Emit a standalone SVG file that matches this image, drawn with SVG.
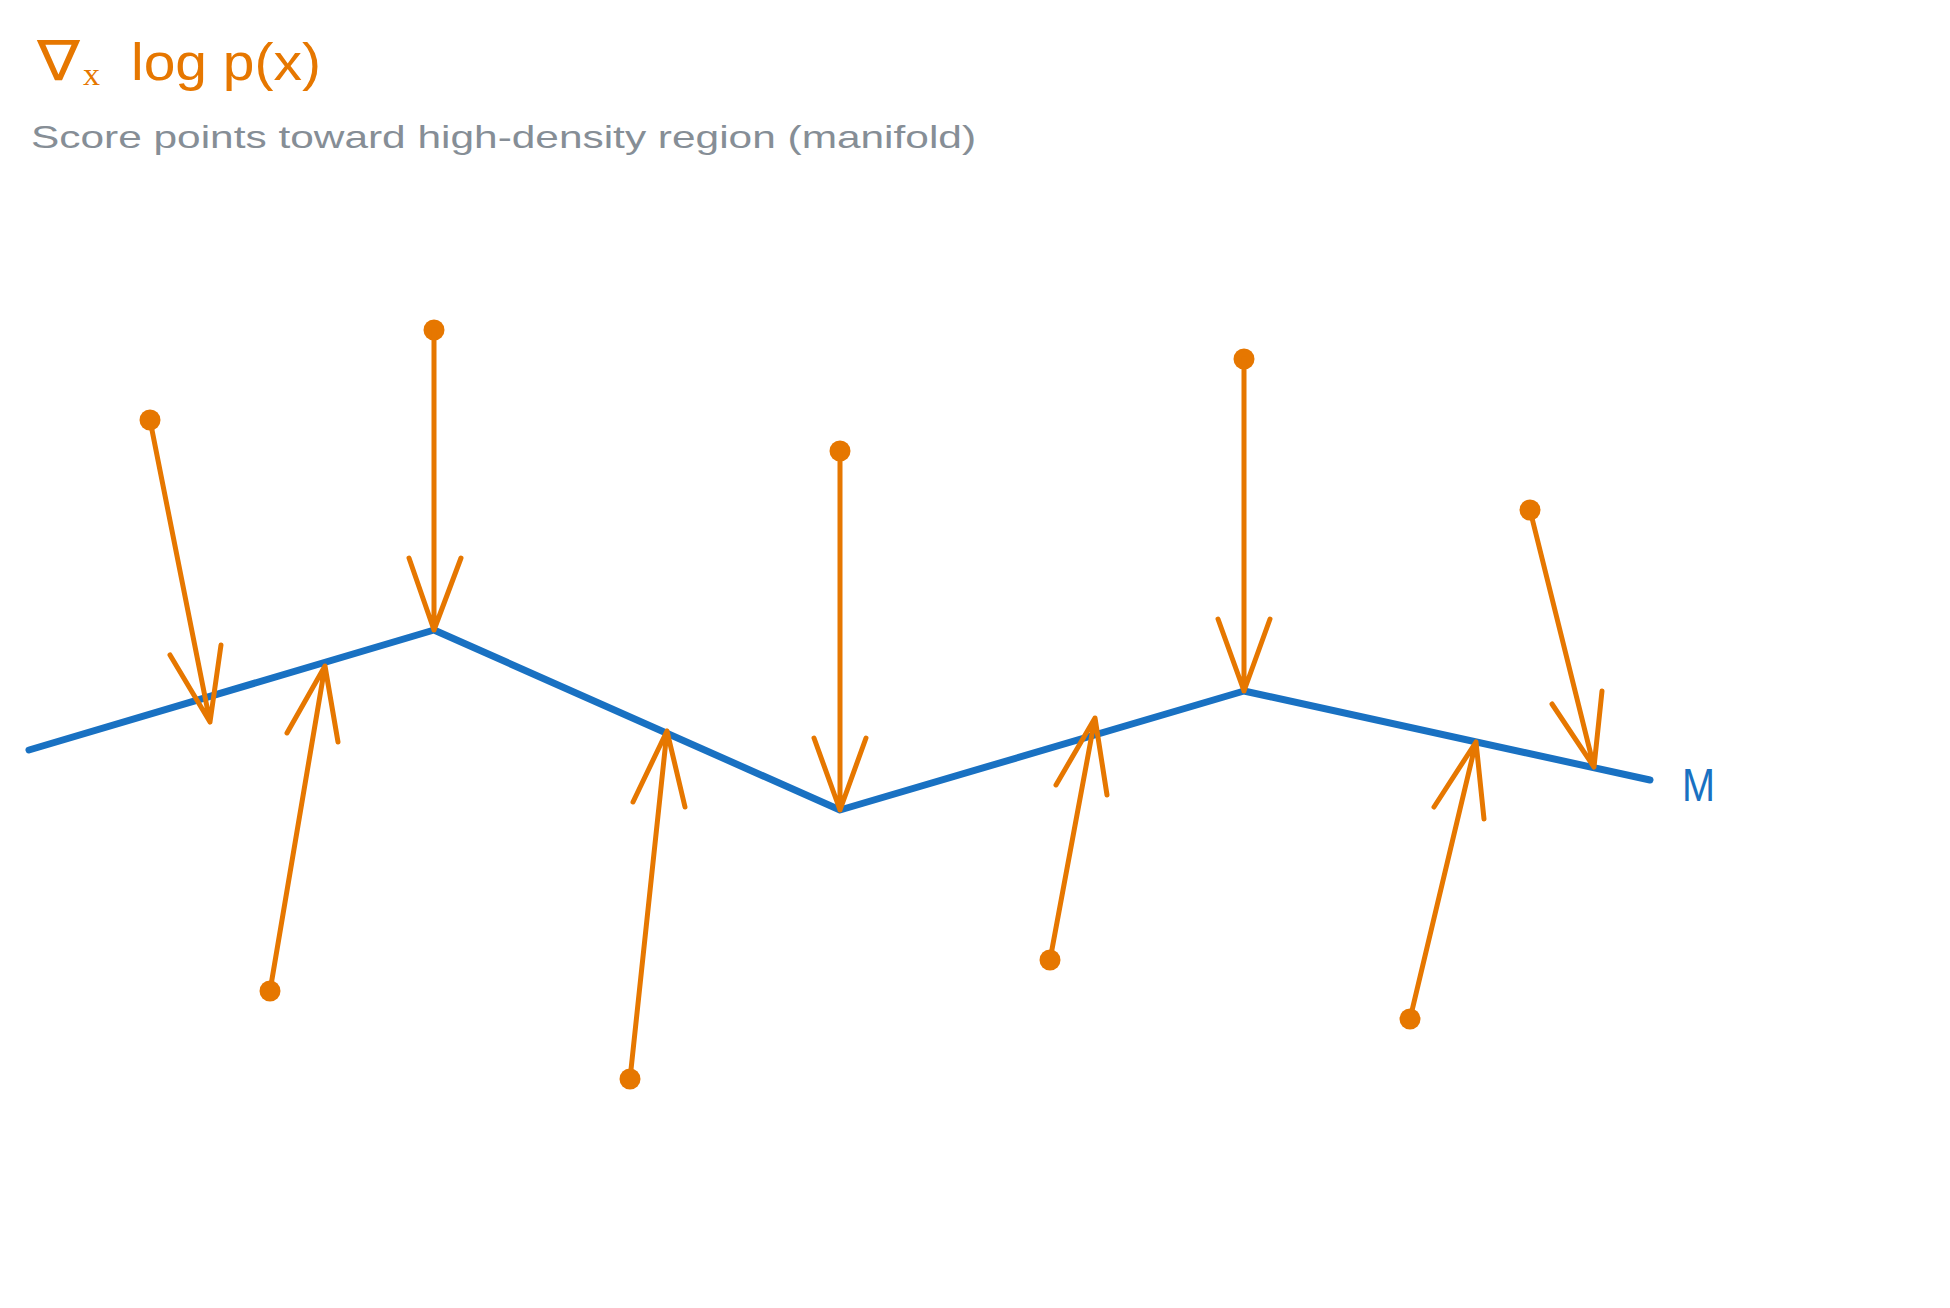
<svg xmlns="http://www.w3.org/2000/svg" width="1950" height="1308" viewBox="0 0 1950 1308">
<style>
.bg{fill:#ffffff}
.title{font-family:"Liberation Sans","DejaVu Sans",sans-serif;fill:#e67700}
.sub{font-family:"Liberation Serif",serif;fill:#e67700}
.note{font-family:"Liberation Sans","DejaVu Sans",sans-serif;fill:#868e96}
.mlabel{font-family:"Liberation Sans","DejaVu Sans",sans-serif;fill:#1971c2}
.manifold{fill:none;stroke:#1971c2;stroke-width:7;stroke-linecap:round;stroke-linejoin:round}
.arr{fill:none;stroke:#e67700;stroke-width:5;stroke-linecap:round;stroke-linejoin:round}
.dot{fill:#e67700}
</style>
<rect class="bg" x="0" y="0" width="1950" height="1308"/>
<g id="title">
  <text class="title" x="37" y="80" font-size="56" textLength="43" lengthAdjust="spacingAndGlyphs">∇</text>
  <text class="sub" x="83" y="85" font-size="32" textLength="17" lengthAdjust="spacingAndGlyphs">x</text>
  <text class="title" x="131" y="80" font-size="52" textLength="190" lengthAdjust="spacingAndGlyphs">log p(x)</text>
</g>
<g id="subtitle">
  <text class="note" x="31" y="148" font-size="32" textLength="945" lengthAdjust="spacingAndGlyphs">Score points toward high-density region (manifold)</text>
</g>
<g id="manifold">
  <polyline class="manifold" points="29,750 434,630 840,810 1244,691 1650,780"/>
  <text class="mlabel" x="1682" y="801" font-size="46" textLength="33" lengthAdjust="spacingAndGlyphs">M</text>
</g>
<g id="connectors">
  <g id="arrow1"><circle class="dot" cx="150" cy="420" r="10.5"/><path class="arr" d="M150,420 L210,722 M170,655 L210,722 L221,645"/></g>
  <g id="arrow2"><circle class="dot" cx="434" cy="330" r="10.5"/><path class="arr" d="M434,330 L434,630 M409,558 L434,630 L461,558"/></g>
  <g id="arrow3"><circle class="dot" cx="270" cy="991" r="10.5"/><path class="arr" d="M270,991 L325,666 M287,733 L325,666 L338,742"/></g>
  <g id="arrow4"><circle class="dot" cx="630" cy="1079" r="10.5"/><path class="arr" d="M630,1079 L667,731 M633,802 L667,731 L685,807"/></g>
  <g id="arrow5"><circle class="dot" cx="840" cy="451" r="10.5"/><path class="arr" d="M840,451 L840,810 M814,738 L840,810 L866,738"/></g>
  <g id="arrow6"><circle class="dot" cx="1244" cy="359" r="10.5"/><path class="arr" d="M1244,359 L1244,691 M1218,619 L1244,691 L1270,619"/></g>
  <g id="arrow7"><circle class="dot" cx="1050" cy="960" r="10.5"/><path class="arr" d="M1050,960 L1095,718 M1056,785 L1095,718 L1107,795"/></g>
  <g id="arrow8"><circle class="dot" cx="1530" cy="510" r="10.5"/><path class="arr" d="M1530,510 L1594,767 M1552,704 L1594,767 L1602,691"/></g>
  <g id="arrow9"><circle class="dot" cx="1410" cy="1019" r="10.5"/><path class="arr" d="M1410,1019 L1476,742 M1434,807 L1476,742 L1484,819"/></g>
</g>
</svg>
